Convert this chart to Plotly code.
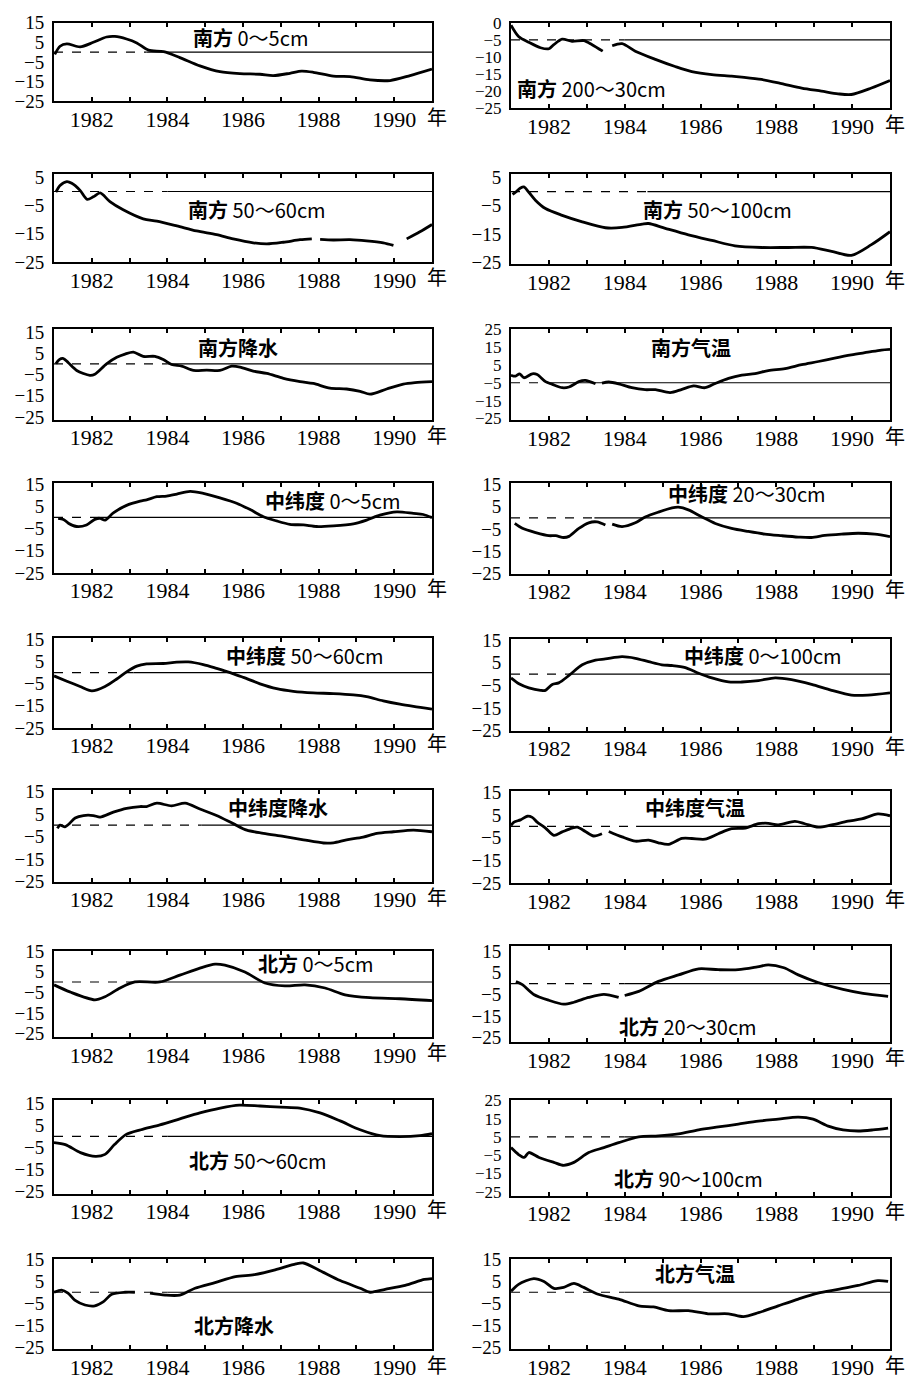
import plotly.graph_objects as go

W, H = 906, 1388

# ---------------- data (year, value) ----------------
# 南方 0~5cm
s1_x = [1981.02, 1981.16, 1981.34, 1981.69, 1982.04, 1982.39, 1982.61, 1982.92, 1983.19, 1983.5, 1983.9, 1984.33, 1984.86, 1985.39, 1985.92, 1986.45, 1986.8, 1987.24, 1987.55, 1987.86, 1988.39, 1988.83, 1989.36, 1989.89, 1990.42, 1991.0]
s1_y = [-1.2, 3, 4.2, 2.7, 5, 7.7, 8, 6.7, 4.7, 1, 0.2, -2.8, -7, -10, -11, -11.3, -12, -10.8, -9.7, -10.3, -12.3, -12.5, -14.2, -14.5, -12, -8.7]
# 南方 200~30cm
s2_x = [1981.0, 1981.2, 1981.47, 1981.78, 1982.0, 1982.13, 1982.35, 1982.61, 1982.92, 1983.14, 1983.42, None, 1983.67, 1983.93, 1984.28, 1984.81, 1985.33, 1985.77, 1986.3, 1986.82, 1987.09, 1987.61, 1988.14, 1988.67, 1989.19, 1989.63, 1989.98, 1990.51, 1991.0]
s2_y = [-0.7, -4, -5.7, -7.3, -7.6, -6.4, -4.8, -5.4, -5.2, -6.4, -8.3, None, -6.7, -6.1, -8.3, -10.7, -12.8, -14.3, -15.2, -15.6, -15.9, -16.6, -17.8, -19.1, -20, -20.8, -21, -19.1, -16.9]
# 南方 50~60cm
s3_x = [1981.05, 1981.16, 1981.34, 1981.47, 1981.69, 1981.88, 1982.04, 1982.22, 1982.48, 1982.83, 1983.36, 1983.72, 1984.25, 1984.77, 1985.3, 1985.74, 1986.27, 1986.63, 1987.07, 1987.51, 1987.82, None, 1988.04, 1988.39, 1988.83, 1989.27, 1989.71, 1989.98, None, 1990.33, 1990.68, 1991.0]
s3_y = [-0.2, 2.1, 3.5, 2.9, 0.4, -2.8, -1.9, -0.5, -3.6, -6.5, -9.7, -10.5, -12.2, -14, -15.3, -16.8, -18.2, -18.6, -18, -17.1, -16.8, None, -17, -17.2, -17.1, -17.5, -18.2, -19.1, None, -16.8, -14.3, -11.7]
# 南方 50~100cm
s4_x = [1981.04, 1981.12, 1981.25, 1981.34, 1981.47, 1981.65, 1981.91, 1982.35, 1982.88, 1983.49, 1983.93, 1984.46, 1984.63, 1985.07, 1985.68, 1986.3, 1986.91, 1987.61, 1988.32, 1988.93, 1989.46, 1989.98, 1990.51, 1991.0]
s4_y = [-1, -0.2, 1.3, 1.7, -0.2, -3.1, -6, -8.4, -10.7, -12.8, -12.7, -11.5, -11.3, -13, -15.3, -17.3, -19.2, -19.8, -19.8, -19.8, -21.2, -22.6, -18.8, -14.2]
# 南方降水
s5_x = [1981.05, 1981.14, 1981.25, 1981.38, 1981.6, 1981.95, 1982.08, 1982.39, 1982.66, 1982.88, 1983.1, 1983.36, 1983.67, 1983.89, 1984.11, 1984.38, 1984.69, 1985.04, 1985.39, 1985.7, 1985.92, 1986.27, 1986.63, 1987.07, 1987.51, 1987.86, 1988.3, 1988.74, 1989.1, 1989.36, 1989.8, 1990.24, 1990.55, 1991.0]
s5_y = [0, 2, 2.5, 0.5, -3.1, -5.4, -4.9, 0, 3.1, 4.6, 5.5, 3.5, 3.5, 2, -0.3, -1.1, -3.1, -2.9, -3.1, -1.1, -1.5, -3.4, -4.5, -6.8, -8.3, -9.2, -11.4, -11.8, -12.9, -14.2, -11.8, -9.5, -8.8, -8.3]
# 南方气温
s6_x = [1981.0, 1981.12, 1981.23, 1981.34, 1981.56, 1981.69, 1981.91, 1982.09, 1982.35, 1982.53, 1982.79, 1982.96, 1983.23, None, 1983.4, 1983.58, 1983.84, 1984.19, 1984.54, 1984.81, 1985.2, 1985.51, 1985.82, 1986.12, 1986.39, 1986.74, 1987.09, 1987.44, 1987.79, 1988.23, 1988.67, 1989.11, 1989.54, 1989.98, 1990.42, 1990.77, 1991.0]
s6_y = [-0.8, -1.3, 0, -2.2, 0, -0.4, -4.4, -5.9, -7.8, -7.4, -4.4, -3.7, -5.6, None, -5.2, -4.6, -5.6, -7.8, -8.9, -8.9, -10.5, -8.7, -6.8, -7.8, -5.4, -2.6, -0.8, 0.1, 1.8, 2.9, 5.1, 6.9, 8.8, 10.6, 12.1, 13.3, 13.7]
# 中纬度 0~5cm
s7_x = [1981.11, 1981.25, 1981.38, 1981.6, 1981.86, 1982.08, 1982.22, 1982.35, 1982.57, 1982.92, 1983.28, 1983.45, 1983.72, 1983.98, 1984.25, 1984.6, 1984.95, 1985.39, 1985.83, 1986.19, 1986.54, 1986.89, 1987.24, 1987.6, 1987.95, 1988.39, 1988.92, 1989.27, 1989.62, 1990.07, 1990.51, 1990.77, 1991.0]
s7_y = [-0.4, -0.9, -2.6, -4.1, -3.4, -0.9, -0.4, -1.2, 2, 5.4, 7.3, 7.9, 9.3, 9.6, 10.5, 11.7, 10.8, 8.8, 6.4, 3.5, 0.3, -1.6, -3.1, -3.4, -4.1, -3.8, -2.9, -1.2, 1, 2.5, 1.8, 1.3, -0.1]
# 中纬度 20~30cm
s8_x = [1981.1, 1981.3, 1981.65, 1982.0, 1982.18, 1982.39, 1982.53, 1982.79, 1983.05, 1983.27, 1983.49, None, 1983.67, 1983.93, 1984.28, 1984.54, 1984.89, 1985.25, 1985.42, 1985.68, 1986.04, 1986.39, 1986.82, 1987.26, 1987.7, 1988.14, 1988.58, 1988.93, 1989.28, 1989.72, 1990.16, 1990.6, 1991.0]
s8_y = [-2.5, -4.7, -6.6, -8, -8, -8.8, -8.3, -4.7, -2.2, -1.8, -3.2, None, -2.8, -3.9, -2.2, 0.4, 2.6, 4.5, 4.8, 3.6, 0.4, -2.5, -4.7, -6.1, -7.3, -8, -8.6, -8.8, -7.9, -7.3, -6.9, -7.3, -8.4]
# 中纬度 50~60cm
s9_x = [1981.0, 1981.34, 1981.69, 1982.0, 1982.35, 1982.66, 1982.92, 1983.19, 1983.45, 1983.89, 1984.25, 1984.55, 1984.95, 1985.3, 1985.66, 1986.01, 1986.45, 1986.89, 1987.33, 1987.86, 1988.39, 1988.92, 1989.27, 1989.71, 1990.15, 1990.51, 1991.0]
s9_y = [-1.5, -3.9, -6.3, -8.3, -6.3, -2.9, 0.3, 2.9, 3.9, 4.1, 4.7, 4.8, 3.6, 1.9, 0, -2.2, -5.1, -7.3, -8.5, -9.2, -9.5, -10.1, -10.9, -12.8, -14.3, -15.3, -16.5]
# 中纬度 0~100cm
s10_x = [1981.0, 1981.21, 1981.47, 1981.78, 1981.91, 1982.09, 1982.26, 1982.53, 1982.88, 1983.23, 1983.49, 1983.93, 1984.28, 1984.63, 1984.98, 1985.25, 1985.6, 1985.95, 1986.3, 1986.74, 1987.09, 1987.53, 1987.97, 1988.4, 1988.93, 1989.46, 1989.98, 1990.42, 1991.0]
s10_y = [-1.7, -4.3, -6.1, -7.2, -7.2, -4.6, -3.9, -0.6, 4.1, 6.2, 6.7, 7.7, 7, 5.5, 4.1, 3.8, 2.9, 0.4, -1.7, -3.5, -3.5, -2.9, -1.7, -2.5, -4.6, -7.2, -9.3, -9.3, -8.3]
# 中纬度降水
s11_x = [1981.09, 1981.16, 1981.29, 1981.38, 1981.56, 1981.78, 1982.04, 1982.22, 1982.57, 1982.92, 1983.28, 1983.45, 1983.72, 1984.11, 1984.47, 1984.86, 1985.3, 1985.74, 1986.1, 1986.54, 1987.07, 1987.6, 1988.13, 1988.39, 1988.74, 1989.18, 1989.54, 1989.98, 1990.51, 1991.0]
s11_y = [-1.4, 0, -0.7, 0.3, 3.2, 4.3, 4.3, 3.6, 5.8, 7.5, 8.3, 8.3, 9.8, 8.6, 9.8, 7.2, 4.3, 0.7, -2.2, -3.6, -5, -6.5, -7.9, -7.8, -6.5, -5.3, -3.6, -2.9, -2.2, -2.9]
# 中纬度气温
s12_x = [1981.0, 1981.08, 1981.25, 1981.43, 1981.56, 1981.69, 1981.91, 1982.13, 1982.35, 1982.61, 1982.75, 1982.96, 1983.18, 1983.4, None, 1983.58, 1983.93, 1984.28, 1984.63, 1984.89, 1985.16, 1985.51, 1985.77, 1986.12, 1986.47, 1986.82, 1987.18, 1987.53, 1987.79, 1988.05, 1988.49, 1988.75, 1989.11, 1989.46, 1989.89, 1990.25, 1990.68, 1991.0]
s12_y = [0.4, 1.9, 2.9, 4.5, 4, 1.9, -0.7, -3.9, -2.4, -0.7, -0.3, -2.2, -4.2, -3.2, None, -2.2, -4.6, -6.5, -6, -7.2, -7.9, -5.3, -5.3, -5.6, -3.2, -1, -0.7, 1.2, 1.4, 0.7, 2.2, 1.2, -0.3, 0.7, 2.3, 3.3, 5.5, 4.7]
# 北方 0~5cm
s13_x = [1981.0, 1981.42, 1982.08, 1982.35, 1982.75, 1983.14, 1983.8, 1984.33, 1984.86, 1985.26, 1985.52, 1986.05, 1986.58, 1987.11, 1987.64, 1988.17, 1988.7, 1989.36, 1990.15, 1991.0]
s13_y = [-1.4, -4.8, -8.6, -7.1, -2.9, 0, 0, 3.3, 6.7, 8.6, 8.1, 4.8, -0.5, -1.9, -1.4, -2.9, -6.2, -7.6, -8.1, -9]
# 北方 20~30cm
s14_x = [1981.13, 1981.3, 1981.6, 1982.0, 1982.39, 1982.66, 1983.05, 1983.45, 1983.84, None, 1984.0, 1984.37, 1984.89, 1985.42, 1985.95, 1986.47, 1987.0, 1987.5, 1987.79, 1988.2, 1988.58, 1989.1, 1989.76, 1990.29, 1990.95]
s14_y = [1, -0.5, -5, -7.7, -9.5, -8.6, -6.4, -5, -6.4, None, -5.5, -3.6, 1, 4, 6.8, 6.4, 6.4, 7.7, 8.6, 7.3, 4, 0.5, -2.7, -4.5, -5.9]
# 北方 50~60cm
s15_x = [1981.0, 1981.3, 1981.7, 1982.1, 1982.35, 1982.6, 1982.9, 1983.3, 1983.8, 1984.33, 1984.86, 1985.4, 1985.9, 1986.45, 1987.0, 1987.5, 1988.04, 1988.57, 1989.1, 1989.63, 1990.15, 1990.68, 1991.0]
s15_y = [-2.8, -3.7, -7.3, -9, -8.1, -3.7, 0.8, 3, 5.2, 7.9, 10.6, 12.8, 14.1, 13.7, 13.2, 12.8, 10.6, 7, 3, 0.3, -0.1, 0.3, 1.2]
# 北方 90~100cm
s16_x = [1981.0, 1981.2, 1981.35, 1981.47, 1981.74, 1982.13, 1982.39, 1982.66, 1983.05, 1983.45, 1983.84, 1984.37, 1984.89, 1985.42, 1985.95, 1986.47, 1987.0, 1987.53, 1988.05, 1988.58, 1988.97, 1989.37, 1989.76, 1990.16, 1990.55, 1990.95]
s16_y = [-0.9, -4.7, -6.3, -3.6, -6.3, -9, -10.6, -9, -3.6, -0.9, 1.8, 5, 5.5, 6.6, 8.8, 10.4, 12, 13.6, 14.7, 15.8, 14.7, 10.9, 8.8, 8.2, 8.8, 9.8]
# 北方降水
s17_x = [1981.0, 1981.2, 1981.37, 1981.55, 1981.82, 1982.08, 1982.3, 1982.53, 1982.88, 1983.14, None, 1983.54, 1983.94, 1984.33, 1984.73, 1985.26, 1985.8, 1986.3, 1986.85, 1987.4, 1987.6, 1988.04, 1988.57, 1989.1, 1989.36, 1989.76, 1990.29, 1990.8, 1991.0]
s17_y = [0, 1, -0.4, -3.6, -5.8, -6.2, -4.4, -0.9, 0, 0, None, -0.4, -1.3, -1.3, 1.8, 4.4, 7.1, 8, 10.2, 12.9, 13.3, 9.8, 5.3, 1.8, 0, 1.3, 3.1, 5.8, 6.2]
# 北方气温
s18_x = [1981.0, 1981.2, 1981.6, 1981.87, 1982.13, 1982.39, 1982.66, 1982.92, 1983.3, 1983.84, 1984.37, 1984.76, 1985.16, 1985.68, 1986.2, 1986.74, 1987.13, 1987.53, 1988.05, 1988.58, 1989.1, 1989.63, 1990.16, 1990.68, 1990.95]
s18_y = [0.4, 3.6, 6.2, 4.9, 1.8, 2.2, 4, 2.2, -0.9, -3.1, -6.2, -6.7, -8.4, -8.4, -9.8, -9.8, -11.1, -9.3, -6.2, -3.1, -0.4, 1.3, 3.1, 5.3, 4.9]

titles = ["南方 0～5cm", "南方 200～30cm", "南方 50～60cm", "南方 50～100cm",
          "南方降水", "南方气温", "中纬度 0～5cm", "中纬度 20～30cm",
          "中纬度 50～60cm", "中纬度 0～100cm", "中纬度降水", "中纬度气温",
          "北方 0～5cm", "北方 20～30cm", "北方 50～60cm", "北方 90～100cm",
          "北方降水", "北方气温"]
baselines = [0, -5, 0, 0, 0, -5, 0, 0, 0, 0, 0, 0, 0, 0, 0, 5, 0, 0]
yt_a = [15, 5, -5, -15, -25]
yt_b = [0, -5, -10, -15, -20, -25]
yt_c = [5, -5, -15, -25]
yt_d = [25, 15, 5, -5, -15, -25]
yticks = [yt_a, yt_b, yt_c, yt_c, yt_a, yt_d, yt_a, yt_a, yt_a, yt_a, yt_a, yt_a,
          yt_a, yt_a, yt_a, yt_d, yt_a, yt_a]
years = list(range(1981, 1992))
year_labels = ["" if (y % 2 == 1) else str(y) for y in years]

series = [(s1_x, s1_y), (s2_x, s2_y), (s3_x, s3_y), (s4_x, s4_y), (s5_x, s5_y), (s6_x, s6_y),
          (s7_x, s7_y), (s8_x, s8_y), (s9_x, s9_y), (s10_x, s10_y), (s11_x, s11_y), (s12_x, s12_y),
          (s13_x, s13_y), (s14_x, s14_y), (s15_x, s15_y), (s16_x, s16_y), (s17_x, s17_y), (s18_x, s18_y)]

# ---------------- layout geometry (pixels) ----------------
col_x = [(54, 432), (511, 890)]
frames = [(12.7, 92.7), (12.7, 100), (166.7, 256), (166.7, 258.3), (324, 416), (324, 416.7),
          (480, 571.7), (480, 572.3), (637.7, 729), (638.3, 731.7), (792.3, 885), (793.3, 886.7),
          (955, 1043), (950, 1048), (1107, 1202), (1107, 1204), (1268, 1360), (1268, 1360)]
yranges = [(-25.1, 15.1), (-25.1, 0.1), (-25.05, 6.15), (-25.8, 6.2), (-26.2, 16.3), (-26.1, 25.05),
           (-25.05, 15.6), (-25.05, 15.8), (-25.05, 15.6), (-25.05, 15.7), (-25.05, 15.5), (-25.05, 15.5),
           (-26.7, 15.2), (-27.0, 17.5), (-25.9, 16.3), (-27.3, 25.05), (-26.0, 15.2), (-26.0, 15.2)]
ytick_size = [19, 17, 19, 19, 19, 17, 19, 19, 19, 19, 19, 19, 19, 19, 19, 17, 19, 19]
dash_end = [1983.45, 1984.0, 1984.0, 1984.6, 1984.0, 1982.0, 1982.2, 1983.2, 1983.1, 1982.5,
            1984.9, 1984.3, 1984.0, 1984.0, 1984.0, 1984.0, 1984.0, 1984.0]
title_pos = [(250, 28, "center"), (515, 80, "left"), (257, 203, "center"), (717, 203, "center"),
             (238, 343, "center"), (691, 343, "center"), (332, 498, "center"), (747, 491, "center"),
             (305, 655, "center"), (763, 655, "center"), (278, 810, "center"), (695, 810, "center"),
             (315, 968, "center"), (688, 1032, "center"), (258, 1168, "center"), (688, 1186, "center"),
             (234, 1336, "center"), (695, 1283, "center")]

def px(x):
    return x / W

def py(y):
    return 1 - y / H

def ttxt(v):
    return str(v) if v >= 0 else "\u2212" + str(-v)

fig = go.Figure()
annotations = []
layout = dict(width=W, height=H, margin=dict(l=0, r=0, t=0, b=0),
              paper_bgcolor="white", plot_bgcolor="white", showlegend=False)

for i in range(18):
    n = i + 1
    col = i % 2
    xa = "x" if n == 1 else f"x{n}"
    ya = "y" if n == 1 else f"y{n}"
    xl, xr = col_x[col]
    top, bot = frames[i]
    layout["xaxis" if n == 1 else f"xaxis{n}"] = dict(
        domain=[px(xl), px(xr)], anchor=ya, range=[1981, 1991],
        tickvals=years, ticktext=year_labels, ticks="inside", ticklen=4, tickwidth=1.5,
        tickcolor="black", showline=True, linewidth=2, linecolor="black", mirror="ticks",
        showgrid=False, zeroline=False,
        tickfont=dict(family="Liberation Serif", size=22, color="black"),
        ticklabelstandoff=-3, fixedrange=True)
    layout["yaxis" if n == 1 else f"yaxis{n}"] = dict(
        domain=[py(bot), py(top)], anchor=xa, range=list(yranges[i]),
        tickvals=yticks[i], ticktext=[ttxt(v) for v in yticks[i]], ticks="",
        showline=True, linewidth=2, linecolor="black", mirror=True,
        showgrid=False, zeroline=False,
        tickfont=dict(family="Liberation Serif", size=ytick_size[i], color="black"),
        ticklabelstandoff=4, fixedrange=True)

    base = baselines[i]
    fig.add_trace(go.Scatter(x=[1981, dash_end[i]], y=[base, base], mode="lines",
                             line=dict(color="black", width=1.2, dash="dash"),
                             xaxis=xa, yaxis=ya, hoverinfo="skip"))
    fig.add_trace(go.Scatter(x=[dash_end[i], 1991], y=[base, base], mode="lines",
                             line=dict(color="black", width=1.2),
                             xaxis=xa, yaxis=ya, hoverinfo="skip"))
    sx, sy = series[i]
    fig.add_trace(go.Scatter(x=sx, y=sy, mode="lines",
                             line=dict(color="black", width=2.8, shape="spline", smoothing=0.8),
                             connectgaps=False, xaxis=xa, yaxis=ya))

    # title
    tx, tyy, anc = title_pos[i]
    t = titles[i]
    parts = t.split(" ")
    if len(parts) == 2:
        txt = f"<b>{parts[0]}</b> {parts[1]}"
    else:
        txt = f"<b>{t}</b>"
    annotations.append(dict(text=txt, x=px(tx), y=py(tyy), xref="paper", yref="paper",
                            xanchor=anc, yanchor="middle", showarrow=False,
                            font=dict(family="Noto Sans CJK SC", size=20, color="black")))
    # 年
    annotations.append(dict(text="年", x=px(xr + 5), y=py(bot + 15), xref="paper", yref="paper",
                            xanchor="center", yanchor="middle", showarrow=False,
                            font=dict(family="Noto Sans CJK SC", size=20, color="black")))

layout["annotations"] = annotations
fig.update_layout(**layout)
fig.write_html("out.html")
